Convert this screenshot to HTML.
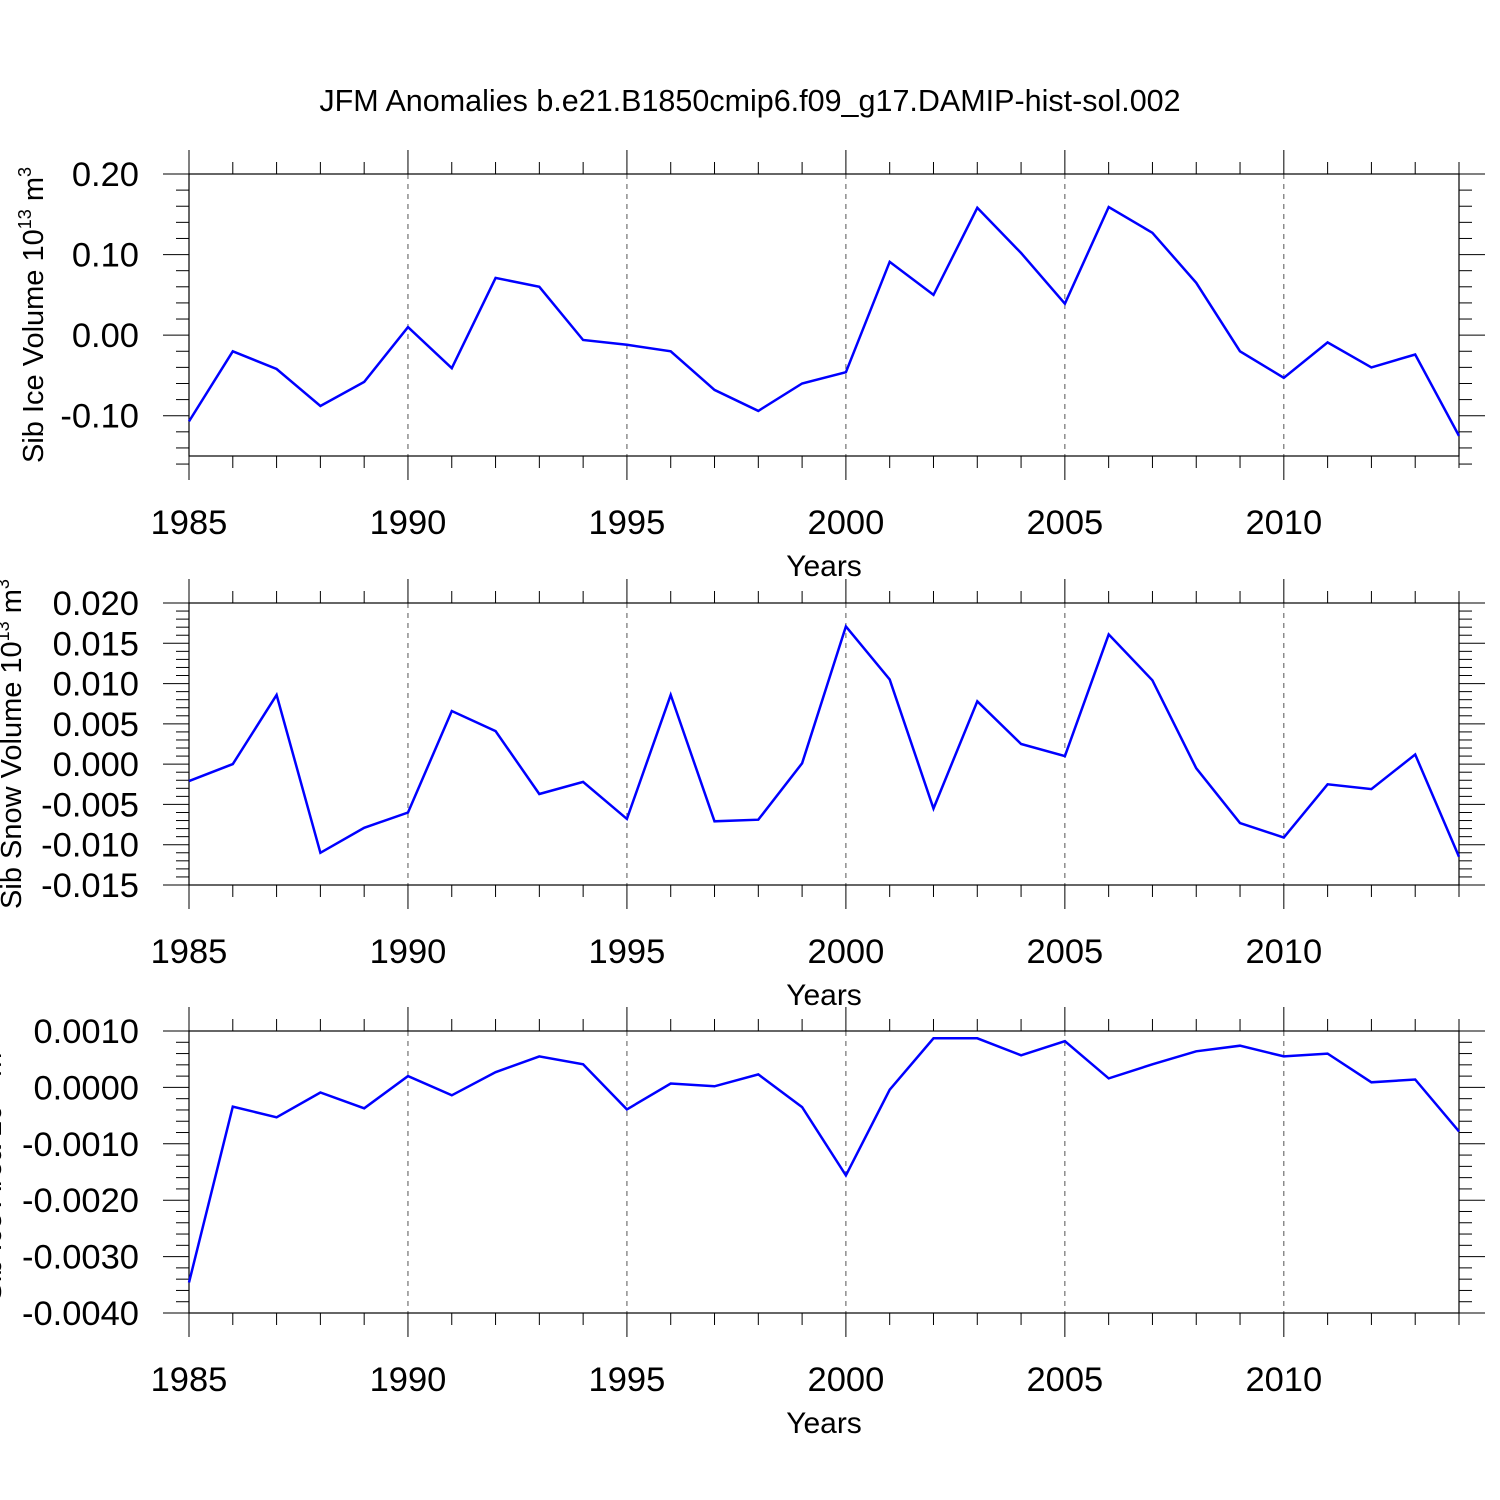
<!DOCTYPE html>
<html><head><meta charset="utf-8"><style>
html,body{margin:0;padding:0;background:#fff;}
svg{display:block;font-family:"Liberation Sans",sans-serif;}
</style></head><body>
<svg id="chart" width="1500" height="1500" viewBox="0 0 1500 1500">
<text x="750" y="111" font-size="30.5" text-anchor="middle">JFM Anomalies b.e21.B1850cmip6.f09_g17.DAMIP-hist-sol.002</text>
</svg>
<script>
const years = [1985,1986,1987,1988,1989,1990,1991,1992,1993,1994,1995,1996,1997,1998,1999,2000,2001,2002,2003,2004,2005,2006,2007,2008,2009,2010,2011,2012,2013,2014];
const iceVolume = [-0.107,-0.020,-0.042,-0.088,-0.058,0.010,-0.041,0.071,0.060,-0.006,-0.012,-0.020,-0.068,-0.094,-0.060,-0.046,0.091,0.050,0.158,0.102,0.039,0.159,0.127,0.065,-0.020,-0.053,-0.009,-0.040,-0.024,-0.125];
const snowVolume = [-0.0021,0.0000,0.0086,-0.0110,-0.0079,-0.0060,0.0066,0.0041,-0.0037,-0.0022,-0.0068,0.0086,-0.0071,-0.0069,0.0001,0.0171,0.0105,-0.0055,0.0078,0.0025,0.0010,0.0161,0.0104,-0.0005,-0.0073,-0.0091,-0.0025,-0.0031,0.0012,-0.0115];
const iceArea = [-0.00346,-0.00034,-0.00053,-0.00009,-0.00037,0.00020,-0.00014,0.00027,0.00055,0.00041,-0.00039,0.00007,0.00002,0.00023,-0.00035,-0.00156,-0.00004,0.00087,0.00087,0.00057,0.00082,0.00016,0.00041,0.00064,0.00074,0.00055,0.00060,0.00009,0.00014,-0.00078];
const xTickLabels = ["1985","1990","1995","2000","2005","2010"];
const iceTicks = ["0.20","0.10","0.00","-0.10"];
const snowTicks = ["0.020","0.015","0.010","0.005","0.000","-0.005","-0.010","-0.015"];
const areaTicks = ["0.0010","0.0000","-0.0010","-0.0020","-0.0030","-0.0040"];

const NS="http://www.w3.org/2000/svg";
const svg=document.getElementById('chart');
function mk(tag,attrs,parent){const e=document.createElementNS(NS,tag);for(const k in attrs)e.setAttribute(k,attrs[k]);(parent||svg).appendChild(e);return e;}
const X0=189,X1=1459;
function xs(y){return X0+(y-1985)*(X1-X0)/29;}

const panels=[
 {top:174,bot:456,ymax:0.20,ymin:-0.15,major:0.10,minor:0.02,data:iceVolume,ticks:iceTicks,name:'ice-volume',title:'Sib Ice Volume 10',sup:'13',unit:' m',usup:'3',tx:43},
 {top:603,bot:885,ymax:0.020,ymin:-0.015,major:0.005,minor:0.001,data:snowVolume,ticks:snowTicks,name:'snow-volume',title:'Sib Snow Volume 10',sup:'13',unit:' m',usup:'3',tx:21},
 {top:1031,bot:1313,ymax:0.0010,ymin:-0.0040,major:0.0010,minor:0.0002,data:iceArea,ticks:areaTicks,name:'ice-area',title:'Sib Ice Area 10',sup:'13',unit:' m',usup:'2',tx:1}
];
panels.forEach(p=>{
 const g=mk('g',{});
 
 
 const ys=v=>p.top+(p.ymax-v)*(p.bot-p.top)/(p.ymax-p.ymin);
 for(let y=1990;y<=2010;y+=5){
  const l=mk('line',{x1:xs(y),x2:xs(y),y1:p.top,y2:p.bot,stroke:'#555','stroke-width':1,'stroke-dasharray':'5,5'},g);
  
  
 }
 for(const y of years){
  const maj=(y%5===0), len=maj?24:12;
  mk('line',{x1:xs(y),x2:xs(y),y1:p.top-len,y2:p.top,stroke:'#000','stroke-width':1},g);
  mk('line',{x1:xs(y),x2:xs(y),y1:p.bot,y2:p.bot+len,stroke:'#000','stroke-width':1},g);
 }
 xTickLabels.forEach(t=>{
  const tx=mk('text',{x:xs(+t),y:p.bot+78,'font-size':34.5,'text-anchor':'middle'},g);
  tx.textContent=t;
  
  
 });
 const xt=mk('text',{x:824,y:p.bot+120,'font-size':30,'text-anchor':'middle'},g);
 xt.textContent='Years';
 
 
 const n=Math.round((p.ymax-p.ymin)/p.minor);
 for(let i=0;i<=n;i++){
  const v=p.ymax-i*p.minor, maj=(i%Math.round(p.major/p.minor)===0), len=maj?26:13;
  const yy=ys(v);
  mk('line',{x1:X0-len,x2:X0,y1:yy,y2:yy,stroke:'#000','stroke-width':1},g);
  mk('line',{x1:X1,x2:X1+len,y1:yy,y2:yy,stroke:'#000','stroke-width':1},g);
 }
 p.ticks.forEach(t=>{
  const tx=mk('text',{x:139,y:ys(+t)+12,'font-size':34.5,'text-anchor':'end'},g);
  tx.textContent=t;
  
  
 });
 const fr=mk('rect',{x:X0,y:p.top,width:X1-X0,height:p.bot-p.top,fill:'none',stroke:'#000','stroke-width':1.2},g);
 
 
 const cy=(p.top+p.bot)/2;
 const yt=mk('text',{x:0,y:0,'font-size':29,'text-anchor':'middle',transform:`translate(${p.tx},${cy}) rotate(-90)`},g);
 
 
 const s1=mk('tspan',{},yt); s1.textContent=p.title;
 const s2=mk('tspan',{dy:-12,'font-size':18},yt); s2.textContent=p.sup;
 const s3=mk('tspan',{dy:12},yt); s3.textContent=p.unit;
 const s4=mk('tspan',{dy:-12,'font-size':18},yt); s4.textContent=p.usup;
 const pts=p.data.map((v,i)=>xs(years[i]).toFixed(1)+','+ys(v).toFixed(1)).join(' ');
 const pl=mk('polyline',{points:pts,fill:'none',stroke:'#0000ff','stroke-width':2.5,'stroke-linejoin':'miter'},g);
 
 
});
</script>
</body></html>
